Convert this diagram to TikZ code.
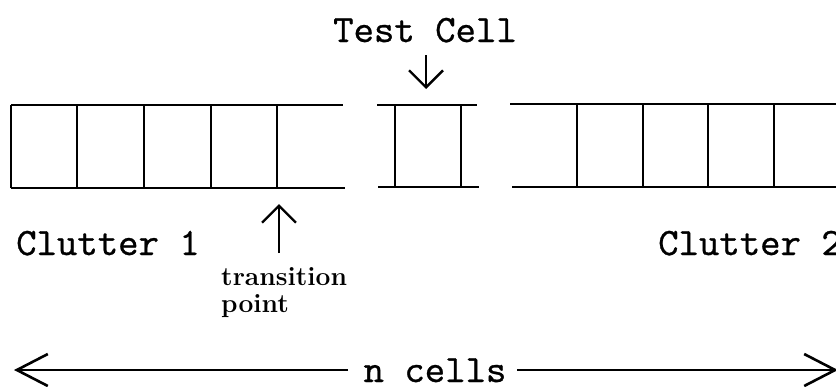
\documentclass[tikz,border=0pt]{standalone}
\usepackage{fontspec}
\newfontfamily\bigtt{lmmono10-regular.otf}[FakeBold=0.7]
\usetikzlibrary{arrows.meta}
\begin{document}
\begin{tikzpicture}[x=1bp,y=-1bp,
  cellline/.style={line width=2.8bp},
  bigtext/.style={inner sep=0pt,font=\bigtt\fontsize{39}{39}\selectfont},
  smalltext/.style={inner sep=0pt,font=\bfseries\fontsize{26.5}{27}\selectfont},
  pointer/.style={line width=2.4bp,-{Straight Barb[length=17bp,width=34bp]}},
  spanarrow/.style={line width=2.6bp,-{Straight Barb[length=31bp,width=32bp]}}]
\useasboundingbox (0,0) rectangle (836,386);
% left block (Clutter 1)
\draw[cellline] (11,105) -- (343,105);
\draw[cellline] (11,188) -- (345,188);
\foreach \x in {11,77,144,211,277}{\draw[cellline] (\x,105) -- (\x,188);}
% test cell block
\draw[cellline] (377,105) -- (477,105);
\draw[cellline] (378,187) -- (479,187);
\foreach \x in {395,461}{\draw[cellline] (\x,105) -- (\x,187);}
% right block (Clutter 2)
\draw[cellline] (510,104) -- (836,104);
\draw[cellline] (512,187) -- (836,187);
\foreach \x in {577,643,708,774}{\draw[cellline] (\x,104) -- (\x,187);}
% labels
\node[bigtext,anchor=base] (tc) at (425,42) {Test Cell};
\node[bigtext,anchor=base] (c1) at (108,255) {Clutter 1};
\node[bigtext,anchor=base] (c2) at (750,255) {Clutter 2};
\node[smalltext,anchor=base west] (tr1) at (221,285) {transition};
\node[smalltext,anchor=base west] (tr2) at (221,312) {point};
% pointers
\coordinate (tcs) at (426,55);
\coordinate (tce) at (426,89);
\draw[pointer] (tcs) -- (tce);
\coordinate (tps) at (279,253);
\coordinate (tpe) at (279,204);
\draw[pointer] (tps) -- (tpe);
% n cells span
\node[bigtext,anchor=base] (nc) at (435,382) {n cells};
\coordinate (la) at (14,370);
\coordinate (ra) at (838,370);
\coordinate (lb) at (348,370);
\coordinate (rb) at (517,370);
\draw[spanarrow] (lb) -- (la);
\draw[spanarrow] (rb) -- (ra);
\end{tikzpicture}
\end{document}
